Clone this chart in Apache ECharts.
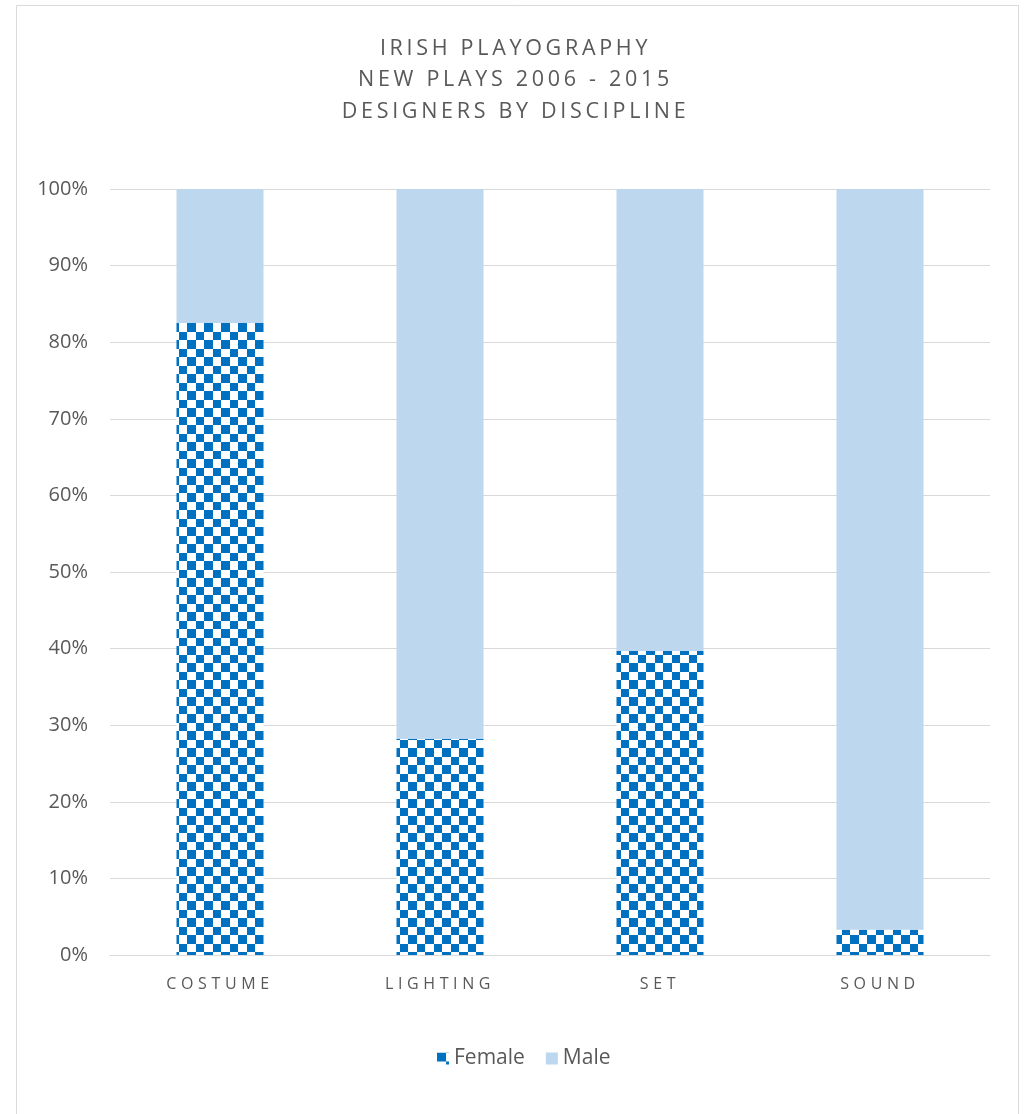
<!DOCTYPE html>
<html><head><meta charset="utf-8">
<script src="https://cdn.jsdelivr.net/npm/echarts@6/dist/echarts.min.js"></script>
<style>html,body{margin:0;padding:0;background:#fff}#c{width:1031px;height:1114px}</style>
</head><body><div id="c"></div>
<script>
const titleLines = ['IRISH PLAYOGRAPHY', 'NEW PLAYS 2006 - 2015', 'DESIGNERS BY DISCIPLINE'];
const categories = ['COSTUME', 'LIGHTING', 'SET', 'SOUND'];
const female = [82.5, 28.2, 39.7, 3.3];
const male = [17.5, 71.8, 60.3, 96.7];
const yTicks = [0, 10, 20, 30, 40, 50, 60, 70, 80, 90, 100];

// letter spacing for the spaced-out title and category labels (by font size)
const LS = {'21.5': 3.7, '16': 4.6};
(function () {
  const proto = CanvasRenderingContext2D.prototype;
  if (!('letterSpacing' in proto)) return;
  const sp = f => { const m = /(\d+(?:\.\d+)?)px/.exec(f || ''); return m && LS[m[1]] ? LS[m[1]] : 0; };
  const of = proto.fillText, om = proto.measureText;
  proto.fillText = function (t, x, y, w) {
    const s = sp(this.font); if (s) this.letterSpacing = s + 'px';
    const r = w === undefined ? of.call(this, t, x, y) : of.call(this, t, x, y, w);
    if (s) this.letterSpacing = '0px'; return r;
  };
  proto.measureText = function (t) {
    const s = sp(this.font); if (s) this.letterSpacing = s + 'px';
    const r = om.call(this, t);
    if (s) this.letterSpacing = '0px'; return r;
  };
})();

const FONT = '"Open Sans", "Noto Sans", sans-serif';
const pc = document.createElement('canvas');
pc.width = 17; pc.height = 17;
const g = pc.getContext('2d');
g.fillStyle = '#ffffff'; g.fillRect(0, 0, 17, 17);
g.fillStyle = '#0070C0';
g.fillRect(0, 0, 9, 9); g.fillRect(9, 9, 8, 8);

const chart = echarts.init(document.getElementById('c'), null, {renderer: 'canvas'});
chart.setOption({
  animation: false,
  backgroundColor: '#ffffff',
  graphic: [{type: 'rect', shape: {x: 16.5, y: 5.5, width: 1002, height: 1120}, style: {fill: 'none', stroke: '#d9d9d9', lineWidth: 1}, silent: true}],
  title: {
    text: titleLines.join('\n'), left: 'center', top: 28,
    textStyle: {fontFamily: FONT, fontSize: 21.5, fontWeight: 'normal', color: '#595959', lineHeight: 31.5}
  },
  legend: {
    top: 1043, left: 432, itemWidth: 12, itemHeight: 12, itemGap: 21,
    icon: 'rect',
    textStyle: {fontFamily: FONT, fontSize: 21, color: '#595959'},
    data: ['Female', 'Male']
  },
  grid: {left: 110, right: 41, top: 189, bottom: 159, containLabel: false},
  xAxis: {
    type: 'category', data: categories,
    axisLine: {lineStyle: {color: '#d9d9d9'}}, axisTick: {show: false},
    axisLabel: {fontFamily: FONT, fontSize: 16, color: '#595959', margin: 19}
  },
  yAxis: {
    type: 'value', min: 0, max: 100, interval: 10,
    axisLine: {show: false}, axisTick: {show: false},
    splitLine: {lineStyle: {color: '#d9d9d9'}},
    axisLabel: {fontFamily: FONT, fontSize: 20, color: '#595959', margin: 22,
      formatter: v => yTicks.includes(v) ? v + '%' : ''}
  },
  series: [
    {name: 'Female', type: 'bar', stack: 'a', data: female, barWidth: 87,
     itemStyle: {color: {image: pc, repeat: 'repeat'}}},
    {name: 'Male', type: 'bar', stack: 'a', data: male, barWidth: 87,
     itemStyle: {color: '#BDD7EE'}}
  ]
});
</script></body></html>
